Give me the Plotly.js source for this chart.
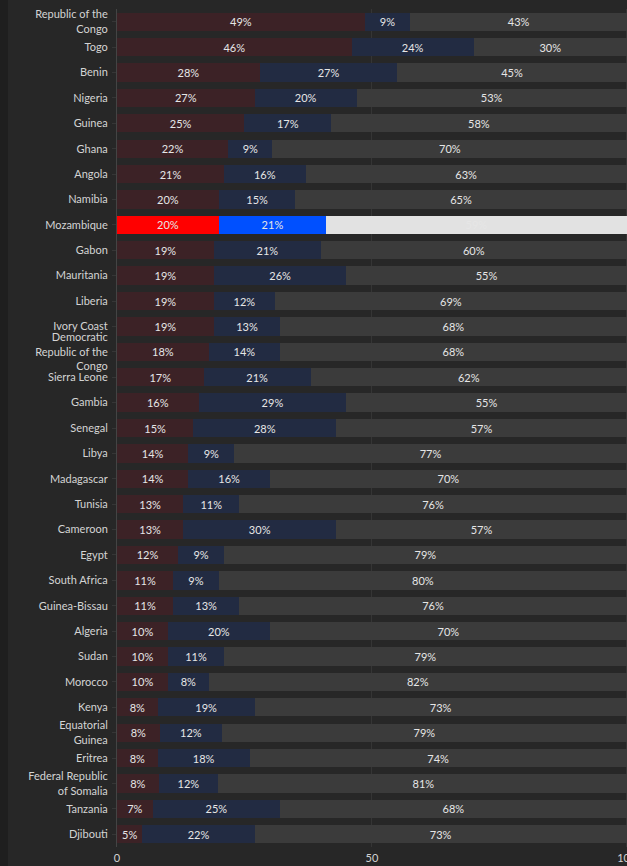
<!DOCTYPE html>
<html>
<head>
<meta charset="utf-8">
<script src="https://cdn.plot.ly/plotly-3.0.1.min.js"></script>
<style>
  html, body { margin: 0; padding: 0; background: #272727; overflow: hidden; }
  #wrap { width: 627px; height: 866px; overflow: hidden; }
  #chart { width: 637px; height: 866px; }
</style>
</head>
<body>
<div id="wrap"><div id="chart"></div></div>
<script>
const countries = [
  "Republic of the<br>Congo", "Togo", "Benin", "Nigeria", "Guinea", "Ghana", "Angola", "Namibia",
  "Mozambique", "Gabon", "Mauritania", "Liberia", "Ivory Coast",
  "Democratic<br>Republic of the<br>Congo", "Sierra Leone", "Gambia", "Senegal", "Libya",
  "Madagascar", "Tunisia", "Cameroon", "Egypt", "South Africa", "Guinea-Bissau", "Algeria",
  "Sudan", "Morocco", "Kenya", "Equatorial<br>Guinea", "Eritrea", "Federal Republic<br>of Somalia",
  "Tanzania", "Djibouti"
];
const series1 = [48.6, 46, 28, 27, 25, 21.8, 21, 20, 20, 19, 19, 19, 19, 18, 17, 16, 15, 14, 14, 13, 13, 12, 11, 11, 10, 10, 10, 8, 8.4, 8, 8.2, 7, 5];
const series2 = [8.9, 24, 27, 20, 17, 8.7, 16, 15, 21, 21, 26, 12, 13, 14, 21, 29, 28, 9, 16, 11, 30, 9, 9, 13, 20, 11, 8, 19, 12.2, 18, 11.6, 25, 22];
const series3 = [42.6, 30, 45, 53, 58, 69.6, 63, 65, 59, 60, 55, 69, 68, 68, 62, 55, 57, 77, 70, 76, 57, 79, 80, 76, 70, 79, 82, 73, 79.4, 74, 80.6, 68, 73];
const highlight = "Mozambique";
const xTicks = [0, 50, 100];

function colorsFor(base, hi) {
  return countries.map(c => c === highlight ? hi : base);
}

const common = {
  type: 'bar',
  orientation: 'h',
  y: countries,
  texttemplate: '%{x:.0f}%',
  textposition: 'inside',
  insidetextanchor: 'middle',
  textangle: 0,
  constraintext: 'none',
  insidetextfont: { family: 'Lato, sans-serif', size: 11, color: '#e6e6e6' },
  hoverinfo: 'skip'
};

const traces = [
  Object.assign({}, common, { x: series1, marker: { color: colorsFor('#3c2226', '#ff0000') } }),
  Object.assign({}, common, { x: series2, marker: { color: colorsFor('#222b42', '#0050ff') } }),
  Object.assign({}, common, { x: series3, marker: { color: colorsFor('#3b3b3b', '#e2e2e2') } })
];

const layout = {
  width: 637,
  height: 866,
  barmode: 'stack',
  bargap: 0.28,
  showlegend: false,
  paper_bgcolor: '#272727',
  plot_bgcolor: '#272727',
  margin: { l: 117, r: 0, t: 9, b: 19 },
  font: { family: 'Lato, sans-serif', size: 11, color: '#d4d4d4' },
  xaxis: {
    range: [0, 102],
    tickvals: xTicks,
    ticktext: xTicks.map(String),
    showgrid: true,
    gridcolor: '#353535',
    gridwidth: 1,
    zeroline: false,
    showline: false,
    ticks: '',
    ticklabelstandoff: 3,
    tickfont: { family: 'Lato, sans-serif', size: 11, color: '#d4d4d4' },
    fixedrange: true
  },
  yaxis: {
    autorange: 'reversed',
    type: 'category',
    showgrid: false,
    zeroline: false,
    showline: true,
    linecolor: '#444444',
    linewidth: 1,
    ticks: 'outside',
    ticklen: 4,
    tickcolor: '#363636',
    ticklabelstandoff: 2,
    tickfont: { family: 'Lato, sans-serif', size: 11, color: '#d4d4d4' },
    fixedrange: true
  },
  shapes: [
    { type: 'rect', xref: 'paper', yref: 'paper', x0: -117 / 520, x1: -109 / 520, y0: -0.03, y1: 1.02,
      fillcolor: '#1f1f1f', line: { width: 0 }, layer: 'below' }
  ]
};

Plotly.newPlot('chart', traces, layout, { displayModeBar: false, staticPlot: true });
</script>
</body>
</html>
